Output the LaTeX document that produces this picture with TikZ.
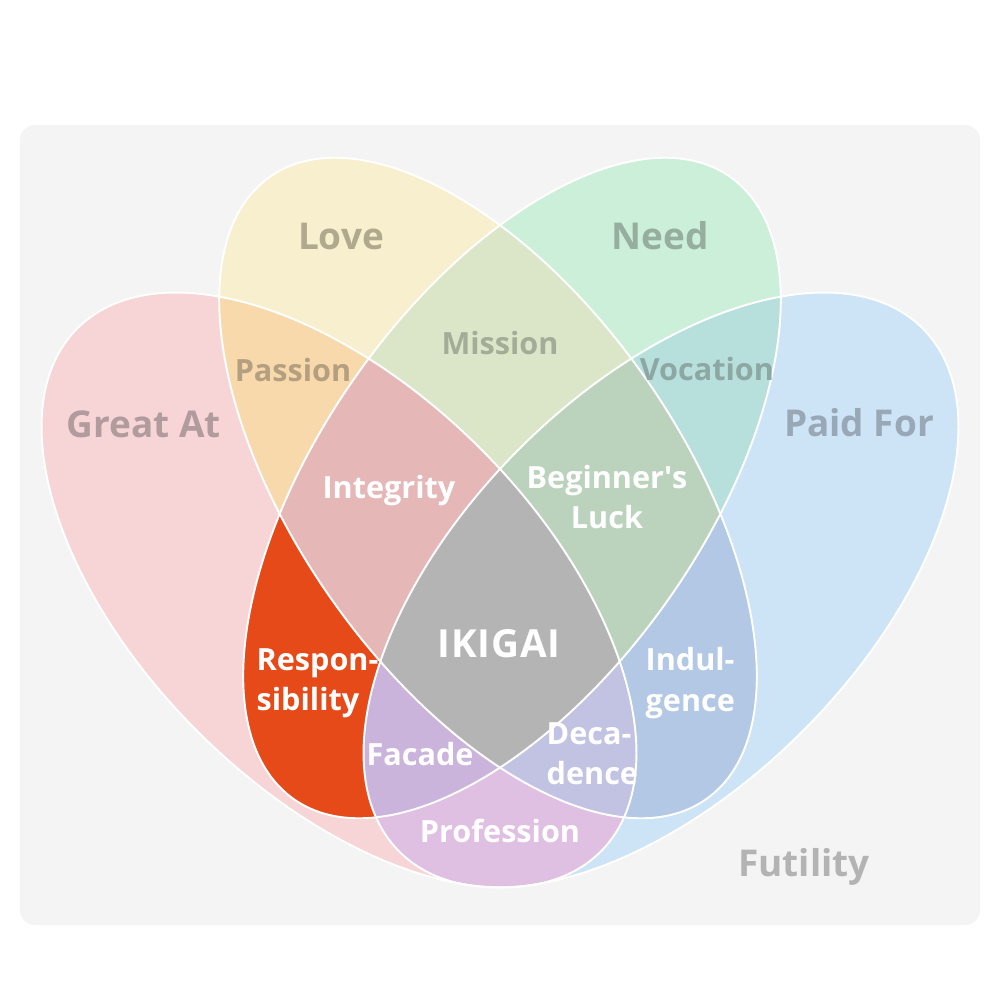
\documentclass[tikz,border=0pt]{standalone}
\usepackage{fontspec}
\setmainfont{Open Sans}
\definecolor{bgGray}{HTML}{F4F4F4}
\definecolor{greatC}{HTML}{F7D4D5}
\definecolor{loveC}{HTML}{F7EFCD}
\definecolor{needC}{HTML}{CCEFD9}
\definecolor{paidC}{HTML}{CDE3F6}
\definecolor{passionC}{HTML}{F7D9AB}
\definecolor{missionC}{HTML}{DBE6C9}
\definecolor{vocationC}{HTML}{B7DFDB}
\definecolor{professionC}{HTML}{DFC0E2}
\definecolor{responsC}{HTML}{E64A19}
\definecolor{indulC}{HTML}{B2C8E4}
\definecolor{integrityC}{HTML}{E5B7B7}
\definecolor{luckC}{HTML}{BBD3BD}
\definecolor{facadeC}{HTML}{CBB4DB}
\definecolor{decaC}{HTML}{C2C3E3}
\definecolor{ikigaiC}{HTML}{B4B4B4}
\definecolor{greatT}{HTML}{B09B9D}
\definecolor{loveT}{HTML}{B1A98E}
\definecolor{needT}{HTML}{96AE9E}
\definecolor{paidT}{HTML}{99A8B7}
\definecolor{passionT}{HTML}{B49F80}
\definecolor{missionT}{HTML}{A2AC97}
\definecolor{vocationT}{HTML}{8DA7A4}
\definecolor{futileT}{HTML}{B3B3B3}
\newcommand*{\GA}{(339,590) circle [x radius=370, y radius=200, rotate=-45]}
\newcommand*{\PF}{(661,590) circle [x radius=370, y radius=200, rotate=45]}
\newcommand*{\LV}{(488,488) circle [x radius=380, y radius=192, rotate=-55]}
\newcommand*{\ND}{(512,488) circle [x radius=380, y radius=192, rotate=55]}
\tikzset{
	bigtext/.style={font=\fontsize{10.5}{12}\selectfont\bfseries, anchor=base, inner sep=0pt},
	smalltext/.style={font=\fontsize{8.7}{11.4}\selectfont\bfseries, anchor=base, inner sep=0pt, text=white},
	splittext/.style={smalltext, align=left, anchor=west},
	outline/.style={draw=white, line width=0.55pt}
}

\begin{document}
\begin{tikzpicture}[x=0.01cm, y=-0.01cm]
		\useasboundingbox (0,0) rectangle (1000,1000);
		\fill[white] (0,0) rectangle (1000,1000);
		\fill[bgGray, rounded corners=0.15cm] (20,125) rectangle (980,925);
		\fill[greatC] \GA;
		\fill[paidC] \PF;
		\fill[loveC] \LV;
		\fill[needC] \ND;
		\begin{scope}
			\clip \GA;
			\fill[passionC] \LV;
			\fill[responsC] \ND;
			\fill[professionC] \PF;
		\end{scope}
		\begin{scope}
			\clip \LV;
			\fill[missionC] \ND;
			\fill[indulC] \PF;
		\end{scope}
		\begin{scope}
			\clip \ND;
			\fill[vocationC] \PF;
		\end{scope}
		\begin{scope}
			\clip \GA;
			\clip \LV;
			\fill[integrityC] \ND;
			\fill[decaC] \PF;
		\end{scope}
		\begin{scope}
			\clip \ND;
			\clip \PF;
			\fill[luckC] \LV;
			\fill[facadeC] \GA;
		\end{scope}
		\begin{scope}
			\clip \GA;
			\clip \LV;
			\clip \ND;
			\fill[ikigaiC] \PF;
		\end{scope}
		\draw[outline] \GA;
		\draw[outline] \PF;
		\draw[outline] \LV;
		\draw[outline] \ND;
		\node[bigtext, text=greatT] (greatat) at (144,437) {Great At};
		\node[bigtext, text=loveT] (love) at (341,249) {Love};
		\node[bigtext, text=needT] (need) at (660,249) {Need};
		\node[bigtext, text=paidT] (paidfor) at (859,436) {Paid For};
		\node[bigtext, text=futileT] (futility) at (804,876) {Futility};
		\node[bigtext, text=white, font=\fontsize{11}{12}\selectfont\bfseries] (ikigai) at (499,657) {\addfontfeatures{LetterSpace=2}IKIGAI};
		\node[smalltext, text=passionT] (passion) at (293,381) {Passion};
		\node[smalltext, text=missionT] (mission) at (500,354) {Mission};
		\node[smalltext, text=vocationT] (vocation) at (707,380) {Vocation};
		\node[smalltext] (integrity) at (389,498) {Integrity};
		\node[smalltext, align=center, anchor=center] (luck) at (607,497) {Beginner\textquotesingle s\\Luck};
		\node[smalltext] (facade) at (420,765) {Facade};
		\node[smalltext] (profession) at (500,842) {Profession};
		\node[splittext] (respons) at (256,683) {Respon-\\sibility};
		\node[splittext] (indulgence) at (645,683) {Indul-\\gence};
		\node[splittext] (decadence) at (546,754) {Deca-\\dence};
	\end{tikzpicture}
\end{document}
